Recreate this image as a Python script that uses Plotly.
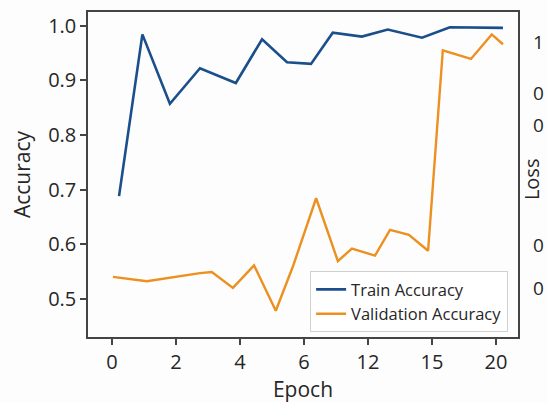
import plotly.graph_objects as go

# x positions are in axis-tick units (ticks evenly spaced, labelled 0,2,4,6,12,15,20)
tick_pos = [0, 2, 4, 6, 8, 10, 12]
tick_labels = ["0", "2", "4", "6", "12", "15", "20"]

train_x = [0.22, 0.95, 1.81, 2.75, 3.87, 4.69, 5.47, 6.22, 6.9, 7.81, 8.62, 9.69, 10.56, 11.4, 12.22]
train_acc = [0.688, 0.984, 0.857, 0.922, 0.895, 0.975, 0.933, 0.930, 0.987, 0.980, 0.993, 0.978, 0.997, 0.997, 0.996]

val_x = [0.03, 1.09, 2.75, 3.12, 3.78, 4.44, 5.12, 5.66, 6.38, 7.06, 7.5, 8.22, 8.69, 9.28, 9.88, 10.34, 11.22, 11.87, 12.22]
val_acc = [0.540, 0.532, 0.547, 0.549, 0.520, 0.561, 0.478, 0.560, 0.684, 0.569, 0.592, 0.579, 0.626, 0.617, 0.588, 0.955, 0.939, 0.984, 0.966]

# glimpses of the neighbouring "Loss" panel's tick labels at the right edge
loss_tick_labels = ["1", "0", "0", "0", "0"]
loss_tick_y = [0.953, 0.797, 0.652, 0.236, 0.106]

FONT = "Open Sans"
BLUE = "#1b4f8c"
ORANGE = "#ec9020"
AX = "#444444"

fig = go.Figure()
fig.add_trace(go.Scatter(x=train_x, y=train_acc, mode="lines", name="Train Accuracy",
                         line=dict(color=BLUE, width=2.6)))
fig.add_trace(go.Scatter(x=val_x, y=val_acc, mode="lines", name="Validation Accuracy",
                         line=dict(color=ORANGE, width=2.4)))

fig.update_layout(
    width=547, height=403,
    margin=dict(l=88, r=29, t=10, b=63),
    paper_bgcolor="#fdfdfd", plot_bgcolor="#fdfdfd",
    font=dict(family=FONT, size=18, color="#262626"),
    showlegend=True,
    legend=dict(x=0.977, y=0.015, xanchor="right", yanchor="bottom",
                bgcolor="rgba(255,255,255,0.9)", bordercolor="#d0d0d0", borderwidth=1,
                font=dict(family=FONT, size=16.5, color="#262626"),
                tracegroupgap=0),
)
fig.update_xaxes(
    range=[-0.75, 12.69], tickvals=tick_pos, ticktext=tick_labels,
    showgrid=False, zeroline=False, showline=True, linecolor=AX, linewidth=1.5,
    mirror=True, ticks="outside", ticklen=6, tickwidth=1.5, tickcolor=AX,
    title=dict(text="Epoch", font=dict(family=FONT, size=21), standoff=4),
    tickfont=dict(family=FONT, size=20),
)
fig.update_yaxes(
    range=[0.430, 1.025], dtick=0.1, tick0=0.5, tickformat=".1f",
    showgrid=False, zeroline=False, showline=True, linecolor=AX, linewidth=1.5,
    mirror=True, ticks="outside", ticklen=6, tickwidth=1.5, tickcolor=AX,
    title=dict(text="Accuracy", font=dict(family=FONT, size=21), standoff=12),
    tickfont=dict(family=FONT, size=20),
)

fig.add_annotation(text="Loss", textangle=-90, x=1.068, y=0.485, xref="paper", yref="paper",
                   showarrow=False, font=dict(family=FONT, size=20, color="#262626"))
for lab, yy in zip(loss_tick_labels, loss_tick_y):
    fig.add_annotation(text=lab, x=1.066, y=yy, xref="paper", yref="paper", xanchor="right",
                       showarrow=False, font=dict(family=FONT, size=19, color="#262626"))

fig.write_html("out.html", config={"displayModeBar": False},
               post_script="document.body.style.margin='0px';")
